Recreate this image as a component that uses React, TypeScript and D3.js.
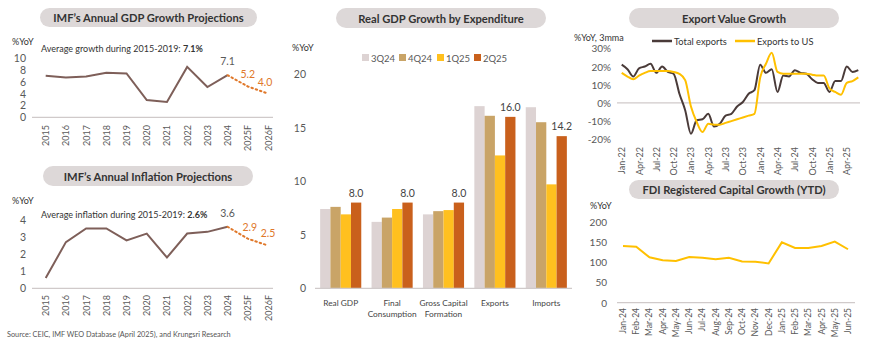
import React from 'react';
import * as d3 from 'd3';

// ---------- DATA ----------
const gdpYears = ['2015', '2016', '2017', '2018', '2019', '2020', '2021', '2022', '2023', '2024', '2025F', '2026F'];
const gdpActual = [7.0, 6.7, 6.9, 7.5, 7.4, 2.9, 2.6, 8.5, 5.1, 7.1];
const gdpForecast = [7.1, 5.2, 4.0];
const gdpTicks = [0, 2, 4, 6, 8, 10];

const infActual = [0.6, 2.7, 3.5, 3.5, 2.8, 3.2, 1.8, 3.2, 3.3, 3.6];
const infForecast = [3.6, 2.9, 2.5];
const infTicks = [0, 1, 2, 3, 4];

const expCategories = ['Real GDP', 'Final\nConsumption', 'Gross Capital\nFormation', 'Exports', 'Imports'];
const expSeries = ['3Q24', '4Q24', '1Q25', '2Q25'];
const exp3Q24 = [7.4, 6.2, 6.9, 17.0, 16.9];
const exp4Q24 = [7.6, 6.6, 7.2, 16.1, 15.5];
const exp1Q25 = [6.9, 7.4, 7.3, 12.4, 9.7];
const exp2Q25 = [8.0, 8.0, 8.0, 16.0, 14.2];
const expTicks = [0, 5, 10, 15, 20];

const exportMonths = [
  'Jan-22', 'Feb-22', 'Mar-22', 'Apr-22', 'May-22', 'Jun-22', 'Jul-22', 'Aug-22', 'Sep-22', 'Oct-22', 'Nov-22', 'Dec-22',
  'Jan-23', 'Feb-23', 'Mar-23', 'Apr-23', 'May-23', 'Jun-23', 'Jul-23', 'Aug-23', 'Sep-23', 'Oct-23', 'Nov-23', 'Dec-23',
  'Jan-24', 'Feb-24', 'Mar-24', 'Apr-24', 'May-24', 'Jun-24', 'Jul-24', 'Aug-24', 'Sep-24', 'Oct-24', 'Nov-24', 'Dec-24',
  'Jan-25', 'Feb-25', 'Mar-25', 'Apr-25', 'May-25', 'Jun-25',
];
const totalExports = [
  21, 18.5, 14.5, 19, 20, 21.5, 16.5, 20, 17, 16, 5, -4,
  -17, -9.5, -9, -6, -13, -11.5, -7, -6, -2, 0.5, 5, 7,
  21, 16.5, 18.5, 6, 15, 14.5, 18, 16.5, 16, 13, 11, 11,
  6, 12, 12, 20, 17, 18,
];
const exportsToUS = [
  16.5, 14.5, 13, 15, 16.5, 17.5, 17.5, 17.5, 17.5, 17, 16, 12.5,
  -2, -10.5, -16, -11.5, -12, -12, -11, -10, -9, -8, -7, -6,
  14, 21.5, 27.5, 17, 16, 16, 16, 16, 16, 15.5, 15, 15,
  8, 6, 4.5, 11, 12, 14,
];
const exportTicks = [-20, -10, 0, 10, 20, 30];
const exportLabelMonths = ['Jan-22', 'Apr-22', 'Jul-22', 'Oct-22', 'Jan-23', 'Apr-23', 'Jul-23', 'Oct-23', 'Jan-24', 'Apr-24', 'Jul-24', 'Oct-24', 'Jan-25', 'Apr-25'];

const fdiMonths = ['Jan-24', 'Feb-24', 'Mar-24', 'Apr-24', 'May-24', 'Jun-24', 'Jul-24', 'Aug-24', 'Sep-24', 'Oct-24', 'Nov-24', 'Dec-24', 'Jan-25', 'Feb-25', 'Mar-25', 'Apr-25', 'May-25', 'Jun-25'];
const fdiValues = [140, 138, 112, 105, 103, 113, 111, 107, 111, 102, 101, 97, 149, 135, 135, 140, 151, 132];
const fdiTicks = [0, 50, 100, 150, 200];

// ---------- STYLE ----------
const FONT = 'Lato, "Open Sans", sans-serif';
const TXT = '#595959';
const AXIS = '#D0CACA';
const PILL = '#DDD8D8';
const BROWN = '#7E5F59';
const ORANGE = '#E0782A';
const DARK = '#4A3B39';
const YELLOW = '#FFC000';
const barColors = ['#DDD3D3', '#C9A467', '#FFC01F', '#C9601C'];

const Pill = ({ x0, x1, y0, y1, text }: { x0: number; x1: number; y0: number; y1: number; text: string }) => (
  <g>
    <rect x={x0} y={y0} width={x1 - x0} height={y1 - y0} rx={(y1 - y0) / 2} fill={PILL} />
    <text x={(x0 + x1) / 2} y={(y0 + y1) / 2} textAnchor="middle" dominantBaseline="central" fontSize={11.2} fontWeight={700} fill="#333">
      {text}
    </text>
  </g>
);

function ImfChart({ top, years, actual, forecast, ticks, yDomain, yRange, title, pill, avgText, avgBold, avgY, lastLabel, fLabels, labelTop, axisY }: any) {
  const x = d3.scalePoint<string>().domain(years).range([45.7, 268]);
  const y = d3.scaleLinear().domain(yDomain).range(yRange);
  const nAct = actual.length;
  const line = d3.line<number>().x((_, i) => x(years[i])!).y((d) => y(d));
  const fLine = d3.line<number>().x((_, i) => x(years[nAct - 1 + i])!).y((d) => y(d));
  return (
    <g>
      <Pill {...pill} text={title} />
      <text x={12} y={top} fontSize={9} fill="#333">%YoY</text>
      <text x={41} y={avgY} fontSize={9} fill="#333">
        {avgText}<tspan fontWeight={700}>{avgBold}</tspan>
      </text>
      {ticks.map((t: number) => (
        <text key={t} x={26} y={y(t)} textAnchor="end" dominantBaseline="central" fontSize={10.5} fill={TXT}>{t}</text>
      ))}
      <line x1={32} x2={273} y1={axisY} y2={axisY} stroke={AXIS} strokeWidth={1.2} />
      <path d={line(actual)!} fill="none" stroke={BROWN} strokeWidth={2} />
      <path d={fLine(forecast)!} fill="none" stroke={ORANGE} strokeWidth={2} strokeDasharray="1.5,3" strokeLinecap="round" />
      <text x={x(years[nAct - 1])!} y={y(actual[nAct - 1]) - 10} textAnchor="middle" fontSize={10.5} fill={TXT}>{lastLabel}</text>
      {forecast.slice(1).map((v: number, i: number) => (
        <text key={i} x={x(years[nAct + i])! + fLabels[i][0]} y={y(v) + fLabels[i][1]} textAnchor="middle" fontSize={10.5} fill={ORANGE}>{v.toFixed(1)}</text>
      ))}
      {years.map((yr: string) => (
        <text key={yr} transform={`translate(${x(yr)},${labelTop}) rotate(-90)`} textAnchor="end" dominantBaseline="central" fontSize={9} fill={TXT}>{yr}</text>
      ))}
    </g>
  );
}

function BarChart() {
  const y = d3.scaleLinear().domain([0, 20]).range([288.3, 74]);
  const x0 = d3.scaleBand<string>().domain(expCategories).range([315, 572]).paddingInner(0.2).paddingOuter(0.1);
  const x1 = d3.scaleBand<string>().domain(expSeries).range([0, x0.bandwidth()]);
  const vals = [exp3Q24, exp4Q24, exp1Q25, exp2Q25];
  const legendX = [362, 399, 437, 474];
  return (
    <g>
      <Pill x0={336} x1={546} y0={8} y1={28} text="Real GDP Growth by Expenditure" />
      <text x={292} y={51} fontSize={9} fill="#333">%YoY</text>
      {expSeries.map((s, i) => (
        <g key={s}>
          <rect x={legendX[i]} y={54} width={7} height={7} fill={barColors[i]} />
          <text x={legendX[i] + 9} y={58} dominantBaseline="central" fontSize={9.5} fill={TXT}>{s}</text>
        </g>
      ))}
      {expTicks.map((t) => (
        <text key={t} x={306} y={y(t)} textAnchor="end" dominantBaseline="central" fontSize={10.5} fill={TXT}>{t}</text>
      ))}
      {expCategories.map((c, ci) => (
        <g key={c} transform={`translate(${x0(c)},0)`}>
          {expSeries.map((s, si) => (
            <rect key={s} x={x1(s)} y={y(vals[si][ci])} width={x1.bandwidth()} height={y(0) - y(vals[si][ci])} fill={barColors[si]} />
          ))}
          <text x={x1('2Q25')! + x1.bandwidth() / 2} y={y(exp2Q25[ci]) - 6} textAnchor="middle" fontSize={10.5} fill="#444">{exp2Q25[ci].toFixed(1)}</text>
          {c.split('\n').map((ln, li) => (
            <text key={li} x={x0.bandwidth() / 2} y={303 + li * 11} textAnchor="middle" dominantBaseline="central" fontSize={8.3} fill="#444">{ln}</text>
          ))}
        </g>
      ))}
      <line x1={315} x2={572} y1={y(0)} y2={y(0)} stroke={AXIS} strokeWidth={1.2} />
    </g>
  );
}

function ExportChart() {
  const x = d3.scalePoint<string>().domain(exportMonths).range([621.7, 858.3]);
  const y = d3.scaleLinear().domain([-20, 30]).range([139.3, 48.3]);
  const line = d3.line<number>().x((_, i) => x(exportMonths[i])!).y((d) => y(d)).curve(d3.curveMonotoneX);
  return (
    <g>
      <Pill x0={629} x1={839} y0={8} y1={28} text="Export Value Growth" />
      <text x={574} y={41} fontSize={9} fill="#333">%YoY, 3mma</text>
      <line x1={652} x2={672} y1={41} y2={41} stroke={DARK} strokeWidth={2.5} />
      <text x={674} y={41} dominantBaseline="central" fontSize={9.3} fill="#333">Total exports</text>
      <line x1={735} x2={755} y1={41} y2={41} stroke={YELLOW} strokeWidth={2.5} />
      <text x={757} y={41} dominantBaseline="central" fontSize={9.3} fill="#333">Exports to US</text>
      {exportTicks.map((t) => (
        <text key={t} x={611} y={y(t)} textAnchor="end" dominantBaseline="central" fontSize={10} fill={TXT}>{`${t}%`}</text>
      ))}
      <line x1={617} x2={860} y1={y(0)} y2={y(0)} stroke={AXIS} strokeWidth={1.2} />
      <path d={line(totalExports)!} fill="none" stroke={DARK} strokeWidth={2} />
      <path d={line(exportsToUS)!} fill="none" stroke={YELLOW} strokeWidth={2} />
      {exportLabelMonths.map((m) => (
        <text key={m} transform={`translate(${x(m)},147) rotate(-90)`} textAnchor="end" dominantBaseline="central" fontSize={9} fill={TXT}>{m}</text>
      ))}
    </g>
  );
}

function FdiChart() {
  const x = d3.scalePoint<string>().domain(fdiMonths).range([623, 848]);
  const y = d3.scaleLinear().domain([0, 200]).range([302.7, 221.7]);
  const line = d3.line<number>().x((_, i) => x(fdiMonths[i])!).y((d) => y(d));
  return (
    <g>
      <Pill x0={629} x1={839} y0={180} y1={199} text="FDI Registered Capital Growth (YTD)" />
      <text x={590} y={209} fontSize={9} fill="#333">%YoY</text>
      {fdiTicks.map((t) => (
        <text key={t} x={607} y={y(t)} textAnchor="end" dominantBaseline="central" fontSize={10} fill={TXT}>{t}</text>
      ))}
      <line x1={617} x2={855} y1={y(0)} y2={y(0)} stroke={AXIS} strokeWidth={1.2} />
      <path d={line(fdiValues)!} fill="none" stroke={YELLOW} strokeWidth={2} />
      {fdiMonths.map((m) => (
        <text key={m} transform={`translate(${x(m)},308) rotate(-90)`} textAnchor="end" dominantBaseline="central" fontSize={8.5} fill={TXT}>{m}</text>
      ))}
    </g>
  );
}

export default function App() {
  return (
    <svg width={870} height={357} style={{ position: 'absolute', left: 0, top: 0, background: '#fff' }} fontFamily={FONT}>
      <rect width={870} height={357} fill="#fff" />
      <ImfChart
        top={45}
        years={gdpYears}
        actual={gdpActual}
        forecast={gdpForecast}
        ticks={gdpTicks}
        yDomain={[0, 10]}
        yRange={[117.3, 58]}
        title="IMF’s Annual GDP Growth Projections"
        pill={{ x0: 40, x1: 257, y0: 8, y1: 27 }}
        avgText="Average growth during 2015-2019: "
        avgBold="7.1%"
        avgY={52}
        lastLabel="7.1"
        fLabels={[[0, -8], [-3, -8]]}
        labelTop={125}
        axisY={117.3}
      />
      <ImfChart
        top={204}
        years={gdpYears}
        actual={infActual}
        forecast={infForecast}
        ticks={infTicks}
        yDomain={[0, 4]}
        yRange={[288.3, 219.9]}
        title="IMF’s Annual Inflation Projections"
        pill={{ x0: 43, x1: 253, y0: 166, y1: 186 }}
        avgText="Average inflation during 2015-2019: "
        avgBold="2.6%"
        avgY={218}
        lastLabel="3.6"
        fLabels={[[2, -8], [0, -9]]}
        labelTop={295}
        axisY={288.3}
      />
      <BarChart />
      <ExportChart />
      <FdiChart />
      <text x={7} y={337} fontSize={7.3} fill="#555">Source: CEIC, IMF WEO Database (April 2025), and Krungsri Research</text>
    </svg>
  );
}
